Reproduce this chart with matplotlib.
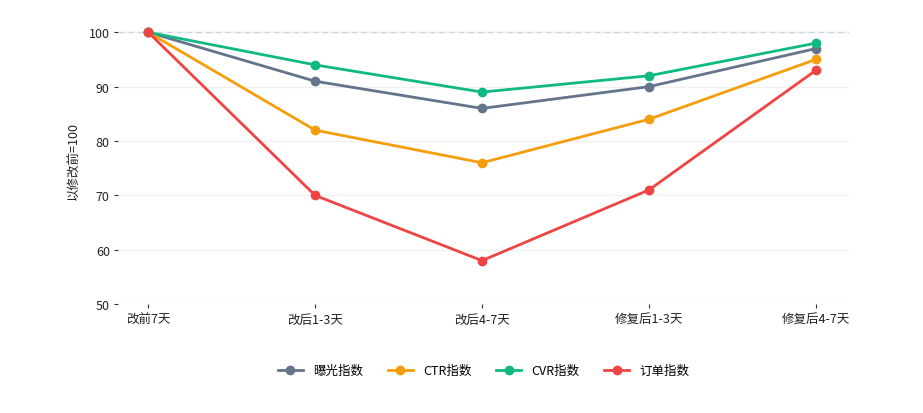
import matplotlib
matplotlib.use("Agg")
import matplotlib.pyplot as plt

plt.rcParams['font.family'] = ['Noto Sans CJK SC', 'DejaVu Sans']

# datos
periodos = ["改前7天", "改后1-3天", "改后4-7天", "修复后1-3天", "修复后4-7天"]
exposicion = [100, 91, 86, 90, 97]
ctr = [100, 82, 76, 84, 95]
cvr = [100, 94, 89, 92, 98]
pedidos = [100, 70, 58, 71, 93]

series = [
    ("曝光指数", exposicion, "#64748b"),
    ("CTR指数", ctr, "#f59e0b"),
    ("CVR指数", cvr, "#10b981"),
    ("订单指数", pedidos, "#ef4444"),
]

fig = plt.figure(figsize=(9.23, 4.14), dpi=100)
ax = fig.add_axes([0.128, 0.263, 0.792, 0.696])

x = list(range(len(periodos)))
for nombre, valores, color in series:
    ax.plot(x, valores, color=color, linewidth=2.0, marker="o", markersize=6, label=nombre, zorder=3)

ax.axhline(100, color="#cbd5e1", linestyle=(0, (4, 3)), linewidth=1, zorder=1)

ax.set_xlim(-0.18, 4.2)
ax.set_ylim(50, 103)
ax.set_yticks([50, 60, 70, 80, 90, 100])
ax.set_xticks(x)
ax.set_xticklabels(periodos)
ax.grid(axis="y", color="#f0f0f0", linewidth=1, zorder=0)
ax.set_axisbelow(True)
for s in ax.spines.values():
    s.set_visible(False)
ax.tick_params(axis="both", labelsize=9, length=3, color="#333333", labelcolor="#222222", pad=3)
ax.set_ylabel("以修改前=100", fontsize=9, color="#222222", labelpad=6)

ax.legend(loc="upper center", bbox_to_anchor=(0.5, -0.17), ncol=4, frameon=False,
          fontsize=9, handlelength=2.0, columnspacing=2.0)

plt.savefig("out.png", dpi=100)
